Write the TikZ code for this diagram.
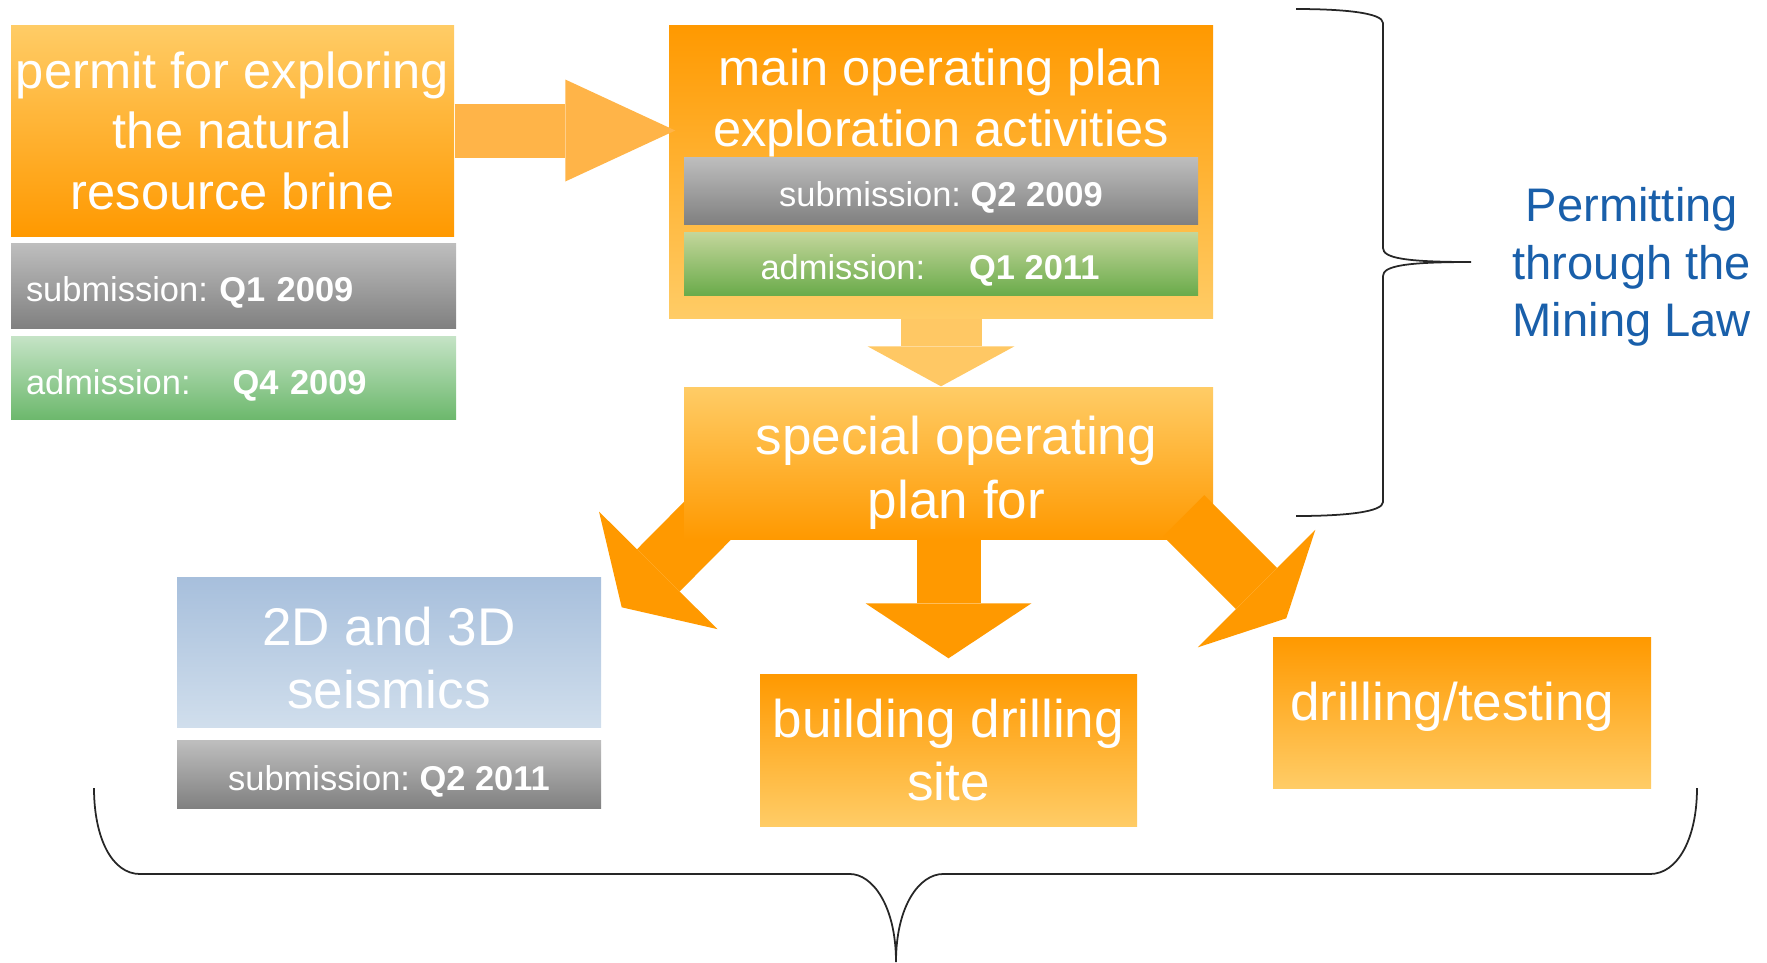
\documentclass[tikz,border=0pt]{standalone}
\usepackage{fontspec}
\setmainfont{Liberation Sans}
\usetikzlibrary{arrows.meta}
\usetikzlibrary{positioning}
\usetikzlibrary{calc}
\usetikzlibrary{backgrounds}

\definecolor{orlight}{RGB}{255,204,102}
\definecolor{ordark}{RGB}{255,153,0}
\definecolor{arrowmid}{RGB}{255,180,72}
\definecolor{arrowpale}{RGB}{255,200,100}
\definecolor{graytop}{RGB}{190,190,190}
\definecolor{graybot}{RGB}{128,128,128}
\definecolor{mintop}{RGB}{196,227,197}
\definecolor{minbot}{RGB}{108,184,108}
\definecolor{olivetop}{RGB}{195,214,155}
\definecolor{olivebot}{RGB}{106,171,74}
\definecolor{skytop}{RGB}{167,191,220}
\definecolor{skybot}{RGB}{208,222,236}
\definecolor{lawblue}{RGB}{25,95,170}

\newcommand{\boxfont}{\fontsize{14.4}{17.2}\selectfont}
\newcommand{\stagefont}{\fontsize{15.1}{18.1}\selectfont}
\newcommand{\datefont}{\fontsize{9.8}{12}\selectfont\frenchspacing}
\newcommand{\lawfont}{\fontsize{13.4}{16.4}\selectfont}

\tikzset{
  box/.style={rectangle, inner sep=0pt, text=white, align=center},
  ambertop/.style={box, top color=orlight, bottom color=ordark},
  amberbottom/.style={box, top color=ordark, bottom color=orlight},
  datebar/.style={box, font=\datefont, text height=10pt, text depth=1pt},
  graybar/.style={datebar, top color=graytop, bottom color=graybot},
  mintbar/.style={datebar, top color=mintop, bottom color=minbot},
  olivebar/.style={datebar, top color=olivetop, bottom color=olivebot},
  leftdate/.style={align=left, text width=41.5mm, inner xsep=1.5mm},
  branch/.style n args={3}{line width=#1, draw=ordark,
    -{Triangle[length=#2, width=#3, line width=0pt]}},
  curlyline/.style={draw=black!85, line width=0.5pt}
}

\begin{document}
\begin{tikzpicture}[x=0.1mm, y=-0.1mm]

\useasboundingbox (0,0) rectangle (1767,962);

% permit and its dates
\node[ambertop, minimum width=44.3mm, minimum height=21.1mm, font=\boxfont]
  (permit) at (232.5,130.5) {permit for exploring\\the natural\\resource brine};
\node[graybar, leftdate, minimum height=8.5mm,
  below=0.6mm of permit.south west, anchor=north west] (sub1)
  {submission: \textbf{Q1 2009}};
\node[mintbar, leftdate, minimum height=8.3mm,
  below=0.7mm of sub1.south west, anchor=north west] (adm1)
  {admission:\hspace{4.2mm}\textbf{Q4 2009}};

% main operating plan
\node[amberbottom, minimum width=54.4mm, minimum height=29.3mm] (main) at (941,171.5) {};
\node[box, font=\boxfont, below=2.4mm of main.north] (maintitle)
  {main operating plan\\exploration activities};
\node[graybar, minimum width=51.4mm, minimum height=6.7mm] (sub2) at (941,190.5)
  {submission: \textbf{Q2 2009}};
\node[olivebar, minimum width=51.4mm, minimum height=6.3mm, below=0.7mm of sub2] (adm2)
  {admission:\hspace{4.4mm}\textbf{Q1 2011}\hspace*{2.2mm}};

% special operating plan
\node[ambertop, minimum width=52.9mm, minimum height=15.2mm] (special) at (948.5,463) {};
\node[box, font=\stagefont] (specialtext) at ($(special.center)+(8,10)$)
  {special operating\\plan for};

% the three activities
\node[box, top color=skytop, bottom color=skybot, minimum width=42.4mm,
  minimum height=15mm] (seismics) at (389,652) {};
\node[box, font=\stagefont] (seismictext) at ($(seismics.center)+(0,6)$) {2D and 3D\\seismics};
\node[graybar, minimum width=42.4mm, minimum height=6.8mm, below=1.2mm of seismics] (sub3)
  {submission: \textbf{Q2 2011}};
\node[amberbottom, minimum width=37.7mm, minimum height=15.2mm, font=\stagefont]
  (building) at (948.5,750) {building drilling\\site};
\node[amberbottom, leftdate, text width=34.4mm, inner xsep=1.7mm, minimum height=15.1mm,
  text height=7pt, text depth=2.6pt, font=\stagefont] (drilling) at (1462,712.5)
  {drilling/testing};

% block arrows
\draw[line width=5.4mm, draw=arrowmid, shorten >=-0.7mm,
  -{Triangle[length=11mm, width=10.2mm, line width=0pt]}]
  (permit.east) -- (permit.east -| main.west);
\draw[line width=8.1mm, draw=arrowpale,
  -{Triangle[length=4mm, width=14.7mm, line width=0pt]}]
  (main.south) -- (main.south |- special.north);
\draw[branch={6.4mm}{5.5mm}{16.6mm}, shorten >=1.5mm]
  (special.south) -- (special.south |- building.north);
\begin{scope}[on background layer]
  \draw[branch={6mm}{5.2mm}{16.7mm}]
    ($(special.south west)+(54,-49)$) -- ($(seismics.north east)+(20,31)$);
\end{scope}
\draw[branch={5.8mm}{4.2mm}{16.6mm}]
  ($(special.south east)+(-30,-24)$) -- ($(drilling.north west)+(14,-18)$);

% braces
\coordinate (bracetip) at (1471,262);
\draw[curlyline] (1296,9) .. controls (1345,9) and (1383,13) .. (1383,23)
  -- (1383,248) .. controls (1383,258) and (1405,262) .. (bracetip)
  .. controls (1405,262) and (1383,266) .. (1383,276)
  -- (1383,502) .. controls (1383,512) and (1345,516) .. (1296,516);
\node[font=\lawfont, text=lawblue, align=center, inner sep=0pt,
  right=4.1mm of bracetip, yshift=-0.5mm] (law) {Permitting\\through the\\Mining Law};

\draw[curlyline] (94,788) .. controls (94,838) and (112,874) .. (140,874)
  -- (850,874) .. controls (872,874) and (896,905) .. (896,962)
  .. controls (896,905) and (920,874) .. (943,874)
  -- (1650,874) .. controls (1678,874) and (1697,838) .. (1697,788);

\end{tikzpicture}
\end{document}
